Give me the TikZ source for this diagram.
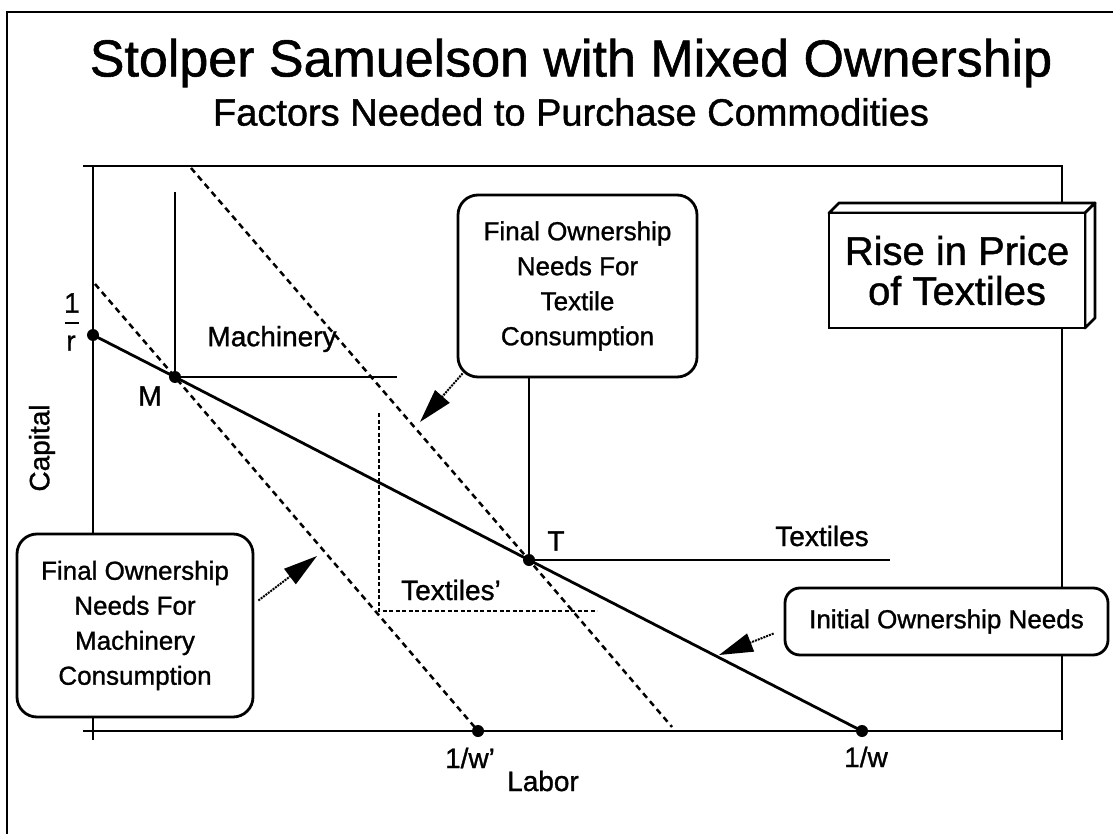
\documentclass[tikz,border=0pt]{standalone}
\usepackage{fontspec}
\setmainfont{Liberation Sans}[FakeBold=1.1]
\usetikzlibrary{arrows.meta}
\begin{document}
\begin{tikzpicture}[x=1pt,y=-1pt,
  frame/.style={line width=2.8pt},
  solidln/.style={line width=2.8pt},
  budget/.style={line width=2.5pt, dash pattern=on 6pt off 4.5pt},
  isodash/.style={line width=2pt, dash pattern=on 4pt off 2.5pt},
  dot/.style={circle, fill=black, inner sep=0pt, minimum size=12pt},
  lbl/.style={font=\fontsize{28}{32}\selectfont, inner sep=0pt},
  rbox/.style={draw, line width=2.8pt, rounded corners=20pt, fill=white, align=center,
               font=\fontsize{26}{35}\selectfont, inner sep=0pt},
  callout/.style={line width=2pt, densely dotted, -{Triangle[length=34pt,width=19pt]}}
]
\useasboundingbox (0,0) rectangle (1113,834);
% outer frame
\draw[frame] (7,834) -- (7,12) -- (1113,12);
% titles
\node[inner sep=0pt, font=\fontsize{52}{60}\selectfont] (title) at (571,63) {Stolper Samuelson with Mixed Ownership};
\node[inner sep=0pt, font=\fontsize{38}{44}\selectfont] (subtitle) at (571,112) {Factors Needed to Purchase Commodities};
% plot frame
\draw[frame] (83,166) -- (1062,166) -- (1062,740);
\draw[frame] (93,166) -- (93,740);
\draw[frame] (83,731) -- (1062,731);
% key points
\coordinate (R) at (93,335);
\coordinate (M) at (175,377);
\coordinate (T) at (529,560);
\coordinate (W) at (862,731);
\coordinate (Wp) at (478,731);
\coordinate (innerTop) at (95,284);
\coordinate (outerTop) at (191,168);
\coordinate (outerEnd) at (672,727);
\coordinate (mTop) at (175,192);
\coordinate (mEnd) at (397,377);
\coordinate (tEnd) at (890,560);
\coordinate (tpTop) at (379,413);
\coordinate (tpCorner) at (379,611);
\coordinate (tpEnd) at (597,611);
% budget lines
\draw[budget] (innerTop) -- (M) -- (Wp);
\draw[budget] (outerTop) -- (T) -- (outerEnd);
\draw[solidln] (R) -- (M) -- (T) -- (W);
% isoquants
\draw[solidln] (mTop) -- (M) -- (mEnd);
\draw[solidln] (T) -- (tEnd);
\draw[isodash] (tpTop) -- (tpCorner) -- (tpEnd);
% boxes
\node[rbox, minimum width=239pt, minimum height=182pt] (tbox) at (577.5,286)
  {Final Ownership\\Needs For\\Textile\\Consumption};
\draw[solidln] (tbox.south -| T) -- (T);
\node[rbox, minimum width=236pt, minimum height=183pt] (mbox) at (135,625.5)
  {Final Ownership\\Needs For\\Machinery\\Consumption};
\node[rbox, rounded corners=15pt, minimum width=323pt, minimum height=67pt] (ibox) at (946.5,621.5)
  {Initial Ownership Needs};
% rise in price box (3D)
\filldraw[fill=white, line width=2.8pt, line join=round] (829,213) -- (839,203) -- (1095,203) -- (1085,213) -- cycle;
\filldraw[fill=white, line width=2.8pt, line join=round] (1085,213) -- (1095,203) -- (1095,318) -- (1085,328) -- cycle;
\node[draw, line width=2.8pt, fill=white, minimum width=256pt, minimum height=115pt, inner sep=0pt,
      align=center, font=\fontsize{40}{40}\selectfont] (rbox) at (957,270.5) {Rise in Price\\of Textiles};
% dots
\foreach \p in {R,M,T,W,Wp} \node[dot] (d\p) at (\p) {};
% labels
\node[lbl] (one) at (72,303) {1};
\node[lbl] (rr) at (71,343) {r};
\draw[line width=2.8pt] (65,323) -- (79,323);
\node[lbl] (machlbl) at (272,339) {Machinery};
\node[lbl] (mlbl) at (150,396) {M};
\node[lbl] (tlbl) at (556,541) {T};
\node[lbl] (texlbl) at (822,536) {Textiles};
\node[lbl] (texplbl) at (451,590) {Textiles'};
\node[lbl] (wplbl) at (470,758) {1/w'};
\node[lbl] (wlbl) at (866,757) {1/w};
\node[lbl] (laborlbl) at (543,781) {Labor};
\node[lbl, rotate=90] (caplbl) at (42,448) {Capital};
% callout arrows
\coordinate (mtip) at (317,556);
\coordinate (ttip) at (420,422);
\coordinate (itip) at (719,655);
\draw[callout] ([xshift=4pt,yshift=25pt]mbox.east) -- (mtip);
\draw[callout] ([shift={(6pt,5pt)}]tbox.south west) -- (ttip);
\draw[callout] ([xshift=-10pt,yshift=-12pt]ibox.west) -- (itip);
\end{tikzpicture}
\end{document}
